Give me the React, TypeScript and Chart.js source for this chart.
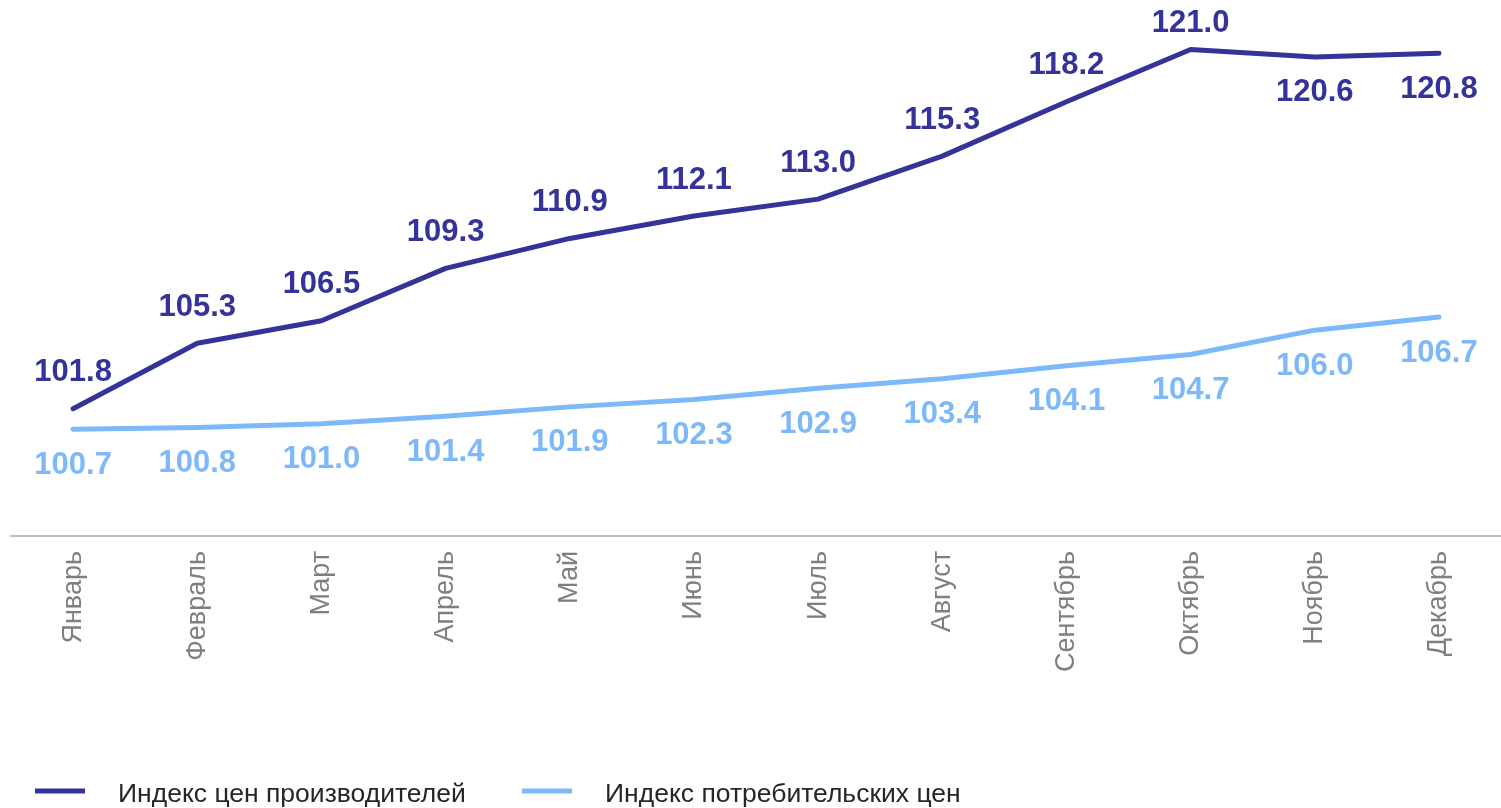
import React, { useEffect, useRef } from "react";
import { Chart, registerables } from "chart.js";

Chart.register(...registerables);

const months = ["Январь", "Февраль", "Март", "Апрель", "Май", "Июнь", "Июль", "Август", "Сентябрь", "Октябрь", "Ноябрь", "Декабрь"];
const producerIndex = [101.8, 105.3, 106.5, 109.3, 110.9, 112.1, 113.0, 115.3, 118.2, 121.0, 120.6, 120.8];
const consumerIndex = [100.7, 100.8, 101.0, 101.4, 101.9, 102.3, 102.9, 103.4, 104.1, 104.7, 106.0, 106.7];
const seriesNames = ["Индекс цен производителей", "Индекс потребительских цен"];

const FONT = "'Liberation Sans', Arial, sans-serif";
const DARK = "#333399";
const LIGHT = "#7DB9F9";

// label side per point: -1 above, 1 below
const producerLabelSide = [-1, -1, -1, -1, -1, -1, -1, -1, -1, -1, 1, 1];
const consumerLabelSide = [1, 1, 1, 1, 1, 1, 1, 1, 1, 1, 1, 1];

const labelPlugin = {
  id: "valueLabels",
  afterDatasetsDraw(chart: any) {
    const ctx = chart.ctx;
    const sides = [producerLabelSide, consumerLabelSide];
    ctx.save();
    ctx.font = `bold 31px ${FONT}`;
    ctx.textAlign = "center";
    ctx.textBaseline = "middle";
    chart.data.datasets.forEach((ds: any, di: number) => {
      const meta = chart.getDatasetMeta(di);
      ctx.fillStyle = ds.borderColor;
      meta.data.forEach((pt: any, i: number) => {
        const text = Number(ds.data[i]).toFixed(1);
        const w = ctx.measureText(text).width;
        let x = pt.x;
        x = Math.max(x, w / 2 + 20);
        x = Math.min(x, chart.width - w / 2 - 4);
        let y = pt.y + sides[di][i] * 36;
        y = Math.max(y, 23);
        ctx.fillText(text, x, y);
      });
    });
    ctx.restore();
  },
  afterDraw(chart: any) {
    const ctx = chart.ctx;
    const items = [
      { x: 35, color: DARK, text: chart.data.datasets[0].label },
      { x: 522, color: LIGHT, text: chart.data.datasets[1].label },
    ];
    ctx.save();
    ctx.font = `26.5px ${FONT}`;
    ctx.textBaseline = "middle";
    ctx.textAlign = "left";
    items.forEach((it) => {
      ctx.strokeStyle = it.color;
      ctx.lineWidth = 5;
      ctx.beginPath();
      ctx.moveTo(it.x, 791);
      ctx.lineTo(it.x + 50, 791);
      ctx.stroke();
      ctx.fillStyle = "#262626";
      ctx.fillText(it.text, it.x + 83, 795);
    });
    ctx.restore();
  },
};

export default function App() {
  const ref = useRef<HTMLCanvasElement>(null);
  useEffect(() => {
    if (!ref.current) return;
    const chart = new Chart(ref.current, {
      type: "line",
      data: {
        labels: months,
        datasets: [
          {
            label: seriesNames[0],
            data: producerIndex,
            borderColor: DARK,
            backgroundColor: DARK,
            borderWidth: 5,
            pointRadius: 0,
            borderCapStyle: "round",
            borderJoinStyle: "round",
            tension: 0,
          },
          {
            label: seriesNames[1],
            data: consumerIndex,
            borderColor: LIGHT,
            backgroundColor: LIGHT,
            borderWidth: 5,
            pointRadius: 0,
            borderCapStyle: "round",
            borderJoinStyle: "round",
            tension: 0,
          },
        ],
      },
      options: {
        animation: false,
        responsive: false,
        maintainAspectRatio: false,
        layout: { padding: { top: 12, left: 11, right: -2, bottom: 0 } },
        plugins: { legend: { display: false }, tooltip: { enabled: false } },
        scales: {
          x: {
            offset: true,
            grid: { display: false, drawTicks: false },
            border: { display: true, color: "#BFBFBF", width: 2 },
            ticks: {
              maxRotation: 90,
              minRotation: 90,
              autoSkip: false,
              padding: 15,
              color: "#7F7F7F",
              font: { family: FONT, size: 27 },
            },
            afterFit: (scale: any) => {
              scale.height = 272;
            },
          },
          y: {
            display: false,
            min: 95,
            max: 123,
          },
        },
      },
      plugins: [labelPlugin],
    });
    return () => chart.destroy();
  }, []);
  return (
    <div style={{ position: "fixed", left: 0, top: 0, width: 1501, height: 808, background: "#fff" }}>
      <canvas ref={ref} width={1501} height={808} style={{ display: "block", width: 1501, height: 808 }} />
    </div>
  );
}
